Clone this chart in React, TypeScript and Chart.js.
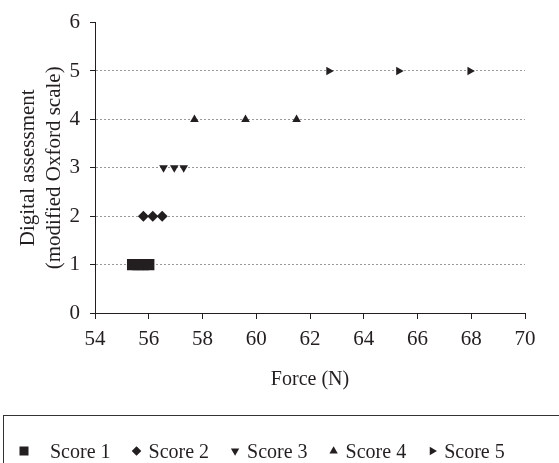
import React, { useEffect, useRef } from "react";
import { Chart, registerables } from "chart.js";

Chart.register(...registerables);

const seriesLabels = ["Score 1", "Score 2", "Score 3", "Score 4", "Score 5"];
const score1Force = [55.4, 55.6, 55.8, 56.0];
const score2Force = [55.8, 56.15, 56.5];
const score3Force = [56.55, 56.95, 57.3];
const score4Force = [57.7, 59.6, 61.5];
const score5Force = [62.7, 65.3, 67.95];
const scoreLevels = [1, 2, 3, 4, 5];
const xTickRange = [54, 70, 2];
const yTickRange = [0, 6, 1];

const INK = "#231f20";
const FONT = '"Liberation Serif", "Times New Roman", serif';

type Marker = { style: string; rotation: number; radius: number; legendSize: number };
const markers: Marker[] = [
  { style: "rect", rotation: 0, radius: 8, legendSize: 4.5 },
  { style: "rectRot", rotation: 0, radius: 5.5, legendSize: 4.8 },
  { style: "triangle", rotation: 180, radius: 5, legendSize: 4.2 },
  { style: "triangle", rotation: 0, radius: 5, legendSize: 4.2 },
  { style: "triangle", rotation: 90, radius: 5, legendSize: 4.2 },
];

function drawLegendMarker(ctx: CanvasRenderingContext2D, m: Marker, x: number, y: number) {
  const s = m.legendSize;
  ctx.beginPath();
  if (m.style === "rect") {
    ctx.rect(x - s, y - s, 2 * s, 2 * s);
  } else if (m.style === "rectRot") {
    ctx.moveTo(x, y - s);
    ctx.lineTo(x + s, y);
    ctx.lineTo(x, y + s);
    ctx.lineTo(x - s, y);
    ctx.closePath();
  } else {
    const rad0 = (m.rotation * Math.PI) / 180;
    for (let k = 0; k < 3; k++) {
      const a = rad0 + (k * 2 * Math.PI) / 3;
      const px = x + Math.sin(a) * s * 1.15;
      const py = y - Math.cos(a) * s * 1.15;
      if (k === 0) ctx.moveTo(px, py);
      else ctx.lineTo(px, py);
    }
    ctx.closePath();
  }
  ctx.fill();
}

const boxedLegend = {
  id: "boxedLegend",
  afterDraw(chart: any) {
    const ctx: CanvasRenderingContext2D = chart.ctx;
    const area = chart.chartArea;
    const top = area.bottom + 102;
    ctx.save();
    ctx.strokeStyle = "#333333";
    ctx.lineWidth = 1;
    ctx.strokeRect(3.5, top + 0.5, chart.width + 10, 80);
    ctx.fillStyle = INK;
    ctx.font = "20px " + FONT;
    ctx.textBaseline = "alphabetic";
    ctx.textAlign = "left";
    const cy = top + 36;
    const baseline = top + 43;
    let x = 24;
    seriesLabels.forEach((label, i) => {
      drawLegendMarker(ctx, markers[i], x, cy);
      const textX = x + (i === 0 ? 26 : 12);
      ctx.fillText(label, textX, baseline);
      const w = ctx.measureText(label).width;
      x = textX + w + 26;
    });
    ctx.restore();
  },
};

export default function App() {
  const ref = useRef<HTMLCanvasElement | null>(null);
  useEffect(() => {
    if (!ref.current) return;
    const allForces = [score1Force, score2Force, score3Force, score4Force, score5Force];
    const datasets = allForces.map((xs, i) => ({
      label: seriesLabels[i],
      data: xs.map((x) => ({ x, y: scoreLevels[i] })),
      pointStyle: markers[i].style,
      rotation: markers[i].rotation,
      pointRotation: markers[i].rotation,
      pointRadius: markers[i].radius,
      pointHoverRadius: markers[i].radius,
      backgroundColor: INK,
      borderColor: INK,
      borderWidth: 0,
      showLine: false,
    }));
    const chart = new Chart(ref.current, {
      type: "scatter",
      data: { datasets } as any,
      plugins: [boxedLegend],
      options: {
        animation: false,
        responsive: false,
        events: [],
        layout: { padding: { left: 0, top: 20, right: 34, bottom: 60 } },
        plugins: { legend: { display: false }, tooltip: { enabled: false } },
        scales: {
          x: {
            type: "linear",
            min: xTickRange[0],
            max: xTickRange[1],
            afterFit: (scale: any) => {
              scale.height = 90;
            },
            ticks: {
              stepSize: xTickRange[2],
              color: INK,
              padding: 8,
              font: { family: FONT, size: 21 },
            },
            grid: {
              drawOnChartArea: false,
              tickLength: 6,
              color: INK,
              tickColor: INK,
            },
            border: { display: true, color: INK, width: 1 },
            title: {
              display: true,
              text: "Force (N)",
              color: INK,
              font: { family: FONT, size: 20, lineHeight: 1.3 },
              padding: { top: 0, bottom: 10 },
            },
          },
          y: {
            type: "linear",
            min: yTickRange[0],
            max: yTickRange[1],
            afterFit: (scale: any) => {
              scale.width = 95;
            },
            ticks: {
              stepSize: yTickRange[2],
              color: INK,
              padding: 10,
              font: { family: FONT, size: 21 },
            },
            grid: {
              tickLength: 5,
              color: (c: any) =>
                c.tick && (c.tick.value === yTickRange[0] || c.tick.value === yTickRange[1])
                  ? "rgba(0,0,0,0)"
                  : "#9a9a9a",
              tickColor: INK,
              borderDash: [2, 2],
              tickBorderDash: [],
            } as any,
            border: { display: true, color: INK, width: 1, dash: [2, 2] },
            title: {
              display: true,
              text: ["Digital assessment", "(modified Oxford scale)"],
              color: INK,
              font: { family: FONT, size: 21, lineHeight: 1.25 },
              padding: { top: 15, bottom: 0 },
            },
          },
        },
      } as any,
    });
    return () => chart.destroy();
  }, []);
  return (
    <div style={{ position: "fixed", left: 0, top: 0, width: 559, height: 463, background: "#fff" }}>
      <canvas ref={ref} width={559} height={463} style={{ display: "block" }} />
    </div>
  );
}
